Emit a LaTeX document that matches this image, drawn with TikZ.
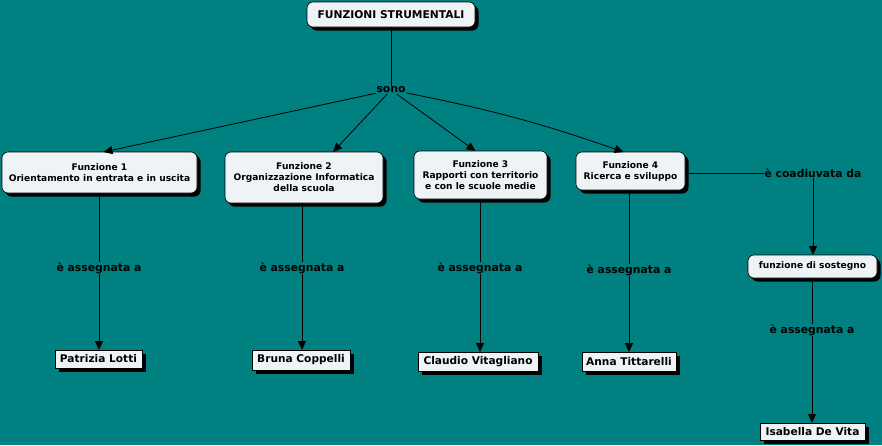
\documentclass[tikz,border=0pt]{standalone}
\usepackage{fontspec}
\setmainfont{DejaVu Sans}
\usetikzlibrary{arrows.meta,shadows,calc}
\definecolor{bgteal}{RGB}{0,128,128}
\definecolor{boxfill}{RGB}{238,244,246}
\begin{document}
\begin{tikzpicture}[x=1pt,y=-1pt,
  every node/.style={inner sep=0pt,outer sep=0pt,align=center,font=\bfseries\fontsize{9.1}{11}\selectfont},
  concept/.style={draw=black,line width=0.6pt,fill=boxfill,rounded corners=6pt,
    drop shadow={shadow xshift=3.5pt,shadow yshift=-3.5pt,fill=black,opacity=1}},
  person/.style={draw=black,line width=0.6pt,fill=boxfill,
    drop shadow={shadow xshift=3.5pt,shadow yshift=-3.5pt,fill=black,opacity=1},
    font=\bfseries\fontsize{10.6}{12}\selectfont},
  linklabel/.style={font=\bfseries\fontsize{10.8}{12}\selectfont,inner sep=1pt},
  conn/.style={draw=black,line width=0.8pt},
  arr/.style={conn,-{Triangle[length=9pt,width=8pt]}}]
\fill[bgteal] (0,0) rectangle (882,445);
\useasboundingbox (0,0) rectangle (882,445);

\node[concept,minimum width=168pt,minimum height=25pt,font=\bfseries\fontsize{10.7}{12}\selectfont] (top) at (391,14.5) {FUNZIONI STRUMENTALI};
\node[linklabel] (sono) at (391,90) {sono};

\node[concept,minimum width=195pt,minimum height=41pt] (f1) at (99.5,172.5) {Funzione 1\\Orientamento in entrata e in uscita};
\node[concept,minimum width=158pt,minimum height=51pt] (f2) at (304,177.5) {Funzione 2\\Organizzazione Informatica\\della scuola};
\node[concept,minimum width=133pt,minimum height=48pt] (f3) at (480.5,175) {Funzione 3\\Rapporti con territorio\\e con le scuole medie};
\node[concept,minimum width=109pt,minimum height=38pt] (f4) at (630.5,171) {Funzione 4\\Ricerca e sviluppo};

\node[linklabel] (coad) at (813,173) {è coadiuvata da};
\node[concept,minimum width=129pt,minimum height=23pt] (sost) at (812.5,266.5) {funzione di sostegno};

\node[linklabel] (l1) at (99,268) {è assegnata a};
\node[linklabel] (l2) at (302,268) {è assegnata a};
\node[linklabel] (l3) at (480,268) {è assegnata a};
\node[linklabel] (l4) at (629,270) {è assegnata a};
\node[linklabel] (l5) at (812,330) {è assegnata a};

\node[person,minimum width=87pt,minimum height=18pt] (p1) at (98.5,359) {Patrizia Lotti};
\node[person,minimum width=98pt,minimum height=20pt] (p2) at (301,360) {Bruna Coppelli};
\node[person,minimum width=120pt,minimum height=19pt] (p3) at (478,361.5) {Claudio Vitagliano};
\node[person,minimum width=94pt,minimum height=19pt] (p4) at (629,361.5) {Anna Tittarelli};
\node[person,minimum width=105pt,minimum height=17pt] (p5) at (812.5,431.5) {Isabella De Vita};

\draw[conn] (top) -- (sono);
\draw[arr] (sono) -- ([xshift=4pt]f1.north);
\draw[arr] (sono) -- ([xshift=29pt]f2.north);
\draw[arr] (sono) -- ([xshift=-5pt]f3.north);
\draw[arr] (sono) to[bend left=4] ([xshift=-7pt]f4.north);

\draw[conn] (l1 |- f1.south) -- (l1);
\draw[arr] (l1) -- (l1 |- p1.north);
\draw[conn] (l2 |- f2.south) -- (l2);
\draw[arr] (l2) -- (l2 |- p2.north);
\draw[conn] (l3 |- f3.south) -- (l3);
\draw[arr] (l3) -- (l3 |- p3.north);
\draw[conn] (l4 |- f4.south) -- (l4);
\draw[arr] (l4) -- (l4 |- p4.north);

\draw[conn] (f4.east |- coad.west) -- (coad.west);
\draw[arr] (coad) -- (coad |- sost.north);
\draw[conn] (l5 |- sost.south) -- (l5);
\draw[arr] (l5) -- (l5 |- p5.north);
\end{tikzpicture}
\end{document}
